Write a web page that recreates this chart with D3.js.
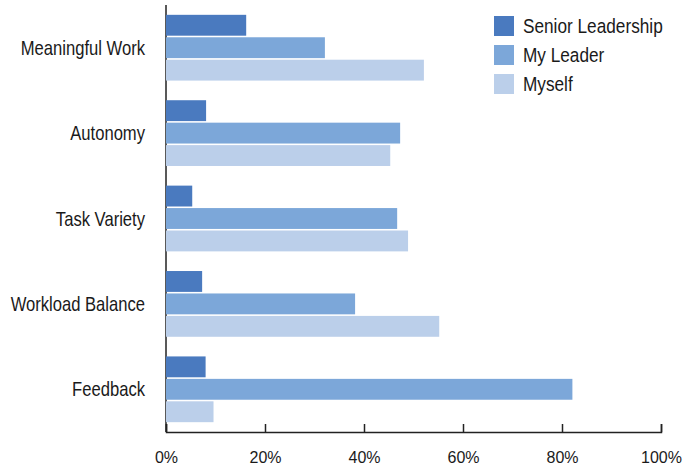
<!DOCTYPE html>
<html>
<head>
<meta charset="utf-8">
<script src="https://cdn.jsdelivr.net/npm/d3@7"></script>
<style>
  body { margin: 0; background: #fff; }
  .cat { font-family: "Liberation Sans", Arial, sans-serif; font-size: 20.5px; fill: #1a1a1a; }
  .tick text { font-family: "Liberation Sans", Arial, sans-serif; font-size: 16px; fill: #1a1a1a; }
</style>
</head>
<body>
<svg id="chart"></svg>
<script>
var categories = ['Meaningful Work', 'Autonomy', 'Task Variety', 'Workload Balance', 'Feedback'];
var seriesNames = ['Senior Leadership', 'My Leader', 'Myself'];
var seniorLeadership = [16.2, 8.1, 5.3, 7.3, 8.0];
var myLeader = [32.1, 47.3, 46.7, 38.2, 82.1];
var myself = [52.1, 45.3, 48.9, 55.2, 9.6];
var tickValues = [0, 20, 40, 60, 80, 100];
var colors = ['#4a7abf', '#7ca7d9', '#bbcfea'];

// no condensed font installed, so squeeze the labels horizontally
var squeeze = 0.81;

function createGroupedBars(w, h) {
  var margin = {top: 5, right: 33, bottom: 33, left: 166},
    width = w - margin.left - margin.right,
    height = h - margin.top - margin.bottom;
  var values = [seniorLeadership, myLeader, myself];

  var svg = d3.select('#chart')
    .attr('width', w)
    .attr('height', h);

  var x = d3.scaleLinear().domain([0, 100]).range([0, width]);
  var y0 = d3.scaleBand().domain(categories).range([0, height])
    .paddingInner(0.23).paddingOuter(0.115);
  var y1 = d3.scaleBand().domain(d3.range(seriesNames.length))
    .range([0, y0.bandwidth()]).paddingInner(0.07);

  var g = svg.append('g')
    .attr('transform', 'translate(' + margin.left + ',' + margin.top + ')');

  // left axis line only
  g.append('line')
    .attr('x1', 0).attr('x2', 0)
    .attr('y1', 0).attr('y2', height)
    .attr('stroke', '#222')
    .attr('stroke-width', 1.5);

  var group = g.selectAll('.grp')
    .data(categories)
    .enter().append('g')
    .attr('class', 'grp')
    .attr('transform', function(d) { return 'translate(0,' + y0(d) + ')'; });

  group.selectAll('rect')
    .data(function(d, i) { return values.map(function(s, k) { return {k: k, v: s[i]}; }); })
    .enter().append('rect')
    .attr('x', 0)
    .attr('y', function(d) { return y1(d.k); })
    .attr('width', function(d) { return x(d.v); })
    .attr('height', y1.bandwidth())
    .attr('fill', function(d) { return colors[d.k]; });

  group.append('text')
    .attr('class', 'cat')
    .attr('transform', 'translate(-21,' + (y0.bandwidth() / 2) + ') scale(' + squeeze + ',1)')
    .attr('dy', '0.35em')
    .attr('text-anchor', 'end')
    .text(function(d) { return d; });

  var xAxis = d3.axisBottom(x)
    .tickValues(tickValues)
    .tickFormat(function(d) { return d + '%'; })
    .tickSizeInner(-8)
    .tickSizeOuter(-8)
    .tickPadding(20);
  var ax = g.append('g')
    .attr('transform', 'translate(0,' + height + ')')
    .call(xAxis);
  ax.select('.domain').attr('stroke', '#222').attr('stroke-width', 1.5);
  ax.selectAll('.tick line').attr('stroke', '#222').attr('stroke-width', 1.5);

  // legend
  var legend = svg.append('g').attr('transform', 'translate(494,16)');
  var item = legend.selectAll('g')
    .data(seriesNames)
    .enter().append('g')
    .attr('transform', function(d, i) { return 'translate(0,' + (i * 29) + ')'; });
  item.append('rect')
    .attr('width', 20).attr('height', 20)
    .attr('fill', function(d, i) { return colors[i]; });
  item.append('text')
    .attr('class', 'cat')
    .attr('transform', 'translate(29,10) scale(0.84,1)')
    .attr('dy', '0.35em')
    .text(function(d) { return d; });
}

createGroupedBars(694, 465);
</script>
</body>
</html>
